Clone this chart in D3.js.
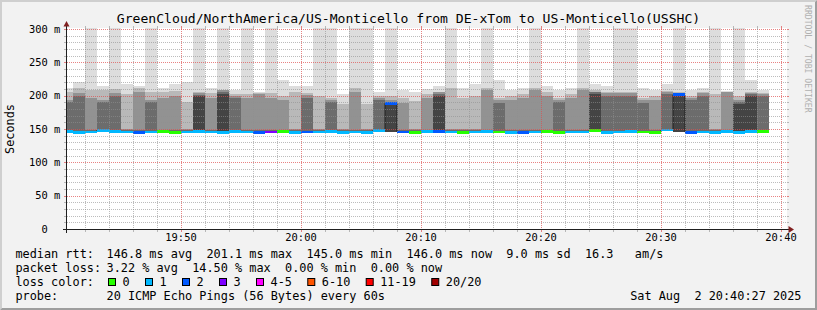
<!DOCTYPE html>
<html>
<head>
<meta charset="utf-8">
<script src="https://cdn.jsdelivr.net/npm/d3@7"></script>
<style>
  html, body { margin: 0; padding: 0; background: #f2f2f2; }
  svg { display: block; }
  text { font-family: "DejaVu Sans Mono", monospace; fill: #000; white-space: pre; }
</style>
</head>
<body>
<div id="chart"></div>
<script>
// Chart text
const title = "GreenCloud/NorthAmerica/US-Monticello from DE-xTom to US-Monticello(USSHC)";
const unitLabel = "Seconds";
const watermark = "RRDTOOL / TOBI OETIKER";

// Time range (one sample per minute, first sample ends 19:41, last 20:39)
const tStart = new Date(2025, 7, 2, 19, 40, 30);
const tEnd = new Date(2025, 7, 2, 20, 40, 30);
const firstStep = new Date(2025, 7, 2, 19, 41, 0);
const lastStep = new Date(2025, 7, 2, 20, 39, 0);

const yTicks = [0, 50, 100, 150, 200, 250, 300];

// median rtt per step (ms)
const medianRtt = [145.6, 145.4, 145.5, 148.4, 145.6, 145.5, 145.3, 145.5, 145.6, 145.4,
                   145.5, 145.7, 145.5, 145.4, 145.6, 145.5, 145.3, 145.5, 145.6, 145.4,
                   145.5, 145.5, 145.6, 145.4, 145.5, 145.3, 148.2, 188.6, 145.5, 145.4,
                   145.6, 146.9, 145.5, 145.4, 145.5, 145.6, 145.5, 145.4, 145.3, 145.5,
                   145.6, 145.4, 145.5, 145.5, 147.6, 145.4, 145.5, 145.6, 145.5, 145.4,
                   148.5, 201.1, 145.3, 145.5, 145.4, 145.6, 145.0, 146.6, 146.0];

// lost pings per step (of 20)
const lossCount = [1, 1, 1, 1, 1, 1, 2, 1, 0, 0,
                   1, 1, 1, 1, 1, 1, 2, 3, 0, 1,
                   2, 1, 1, 1, 1, 1, 1, 2, 2, 0,
                   1, 2, 1, 0, 1, 1, 0, 1, 2, 1,
                   0, 0, 1, 1, 0, 1, 1, 1, 0, 0,
                   1, 2, 2, 1, 1, 1, 1, 1, 0];

// bottom of the smoke (lowest ping, ms)
const rttLow = [145.6, 145.4, 145.5, 148.4, 145.6, 145.5, 145.3, 145.5, 145.6, 145.4,
                145.5, 145.7, 145.5, 145.4, 145.6, 145.5, 145.3, 145.5, 145.6, 145.4,
                145.5, 145.5, 145.6, 145.4, 145.5, 145.3, 148.2, 145.0, 145.5, 145.4,
                145.6, 146.9, 145.5, 145.4, 145.5, 145.6, 145.5, 145.4, 145.3, 145.5,
                145.6, 145.4, 145.5, 145.5, 147.6, 145.4, 145.5, 145.6, 145.5, 145.4,
                148.5, 145.0, 145.3, 145.5, 145.4, 145.6, 145.0, 146.6, 146.0];

// upper pings of each step, outer to inner (ms)
const rttP20 = [211, 221, 320, 215, 320, 218, 215, 320, 212, 218,
                220, 320, 212, 320, 209, 320, 206, 320, 223, 215,
                214, 320, 320, 203, 320, 320, 206, 320, 208, 205,
                210, 215, 320, 212, 218, 320, 224, 208, 211, 320,
                215, 208, 211, 320, 218, 215, 320, 320, 212, 208,
                218, 320, 209, 212, 320, 207, 320, 224, 208];
const rttP18 = [205, 211, 208, 208, 210, 203, 211, 205, 205, 207,
                190, 206, 204, 209, 203, 203, 204, 204, 200, 205,
                204, 200, 197, 187, 211, 187, 200, 200, 197, 192,
                203, 206, 211, 197, 200, 212, 197, 200, 202, 212,
                206, 197, 203, 212, 208, 206, 206, 206, 197, 200,
                207, 206, 199, 206, 203, 206, 200, 206, 204];
const rttP16 = [194, 204, 197, 194, 204, 150, 205, 194, 197, 200,
                150, 204, 197, 208, 200, 196, 202, 197, 193, 150,
                201, 150, 194, 150, 205, 150, 197, 194, 189, 150,
                197, 205, 150, 150, 150, 208, 193, 194, 196, 208,
                200, 194, 197, 208, 206, 204, 204, 204, 193, 194,
                205, 204, 196, 204, 150, 205, 193, 204, 202];
const rttP14 = [190, 200, 148.5, 190, 200, 148, 148.5, 190, 148.5, 148.5,
                148, 201, 148.5, 205, 196, 148.5, 148.5, 148.5, 148.5, 148,
                197, 148, 190, 148, 148.5, 148, 193, 191, 148.5, 148,
                148.5, 202, 148, 148, 148, 148.5, 189, 148.5, 148.5, 148.5,
                148.5, 190, 148.5, 148.5, 205, 200, 200, 200, 189, 148.5,
                202, 203, 193, 200, 148, 148.5, 190, 202, 200];
const rttP12 = [147.5, 147.5, 147, 147.5, 147.5, 147, 147, 147.5, 147, 147,
                147, 199, 147, 203, 147.5, 147, 147, 147, 147, 147,
                147.5, 147, 147.5, 147, 147, 147, 147.5, 189, 147, 147,
                147, 200, 147, 147, 147, 147, 147.5, 147, 147, 147,
                147, 147.5, 147, 147, 203, 147.5, 147.5, 147.5, 147.5, 147,
                147.5, 201, 147.5, 147.5, 147, 147, 187, 200, 147.5];

// loss colour legend
const lossLabels = ["0", "1", "2", "3", "4-5", "6-10", "11-19", "20/20"];
const lossColors = ["#26ff00", "#00b8ff", "#0059ff", "#7e00ff", "#ff00ff", "#ff5500", "#ff0000", "#a10000"];
const lossLimits = [1, 2, 3, 4, 6, 11, 20];

// legend lines
const legendRows = [
    ["median rtt:", "146.8 ms avg  201.1 ms max  145.0 ms min  146.0 ms now  9.0 ms sd  16.3   am/s"],
    ["packet loss:", "3.22 % avg  14.50 % max  0.00 % min  0.00 % now"],
    ["loss color:", ""],
    ["probe:", "20 ICMP Echo Pings (56 Bytes) every 60s"]
];
const stampText = "Sat Aug  2 20:40:27 2025";

// ---- Setup ----
const W = 817, H = 310;
const plotL = 67, plotR = 787, plotT = 29, plotB = 229;

const svg = d3.select("#chart").append("svg")
    .attr("width", W)
    .attr("height", H);

// background and 3d frame
svg.append("rect").attr("width", W).attr("height", H).attr("fill", "#f2f2f2");
svg.append("path")
    .attr("d", `M0,${H} L2,${H - 2} L2,2 L${W - 2},2 L${W},0 L0,0 Z`)
    .attr("fill", "#cfcfcf");
svg.append("path")
    .attr("d", `M2,${H - 2} L${W - 2},${H - 2} L${W - 2},2 L${W},0 L${W},${H} L0,${H} Z`)
    .attr("fill", "#9e9e9e");

const x = d3.scaleTime().domain([tStart, tEnd]).range([plotL, plotR]);
const y = d3.scaleLinear().domain([0, 300]).range([plotB, plotT]);
const lossColor = d3.scaleThreshold().domain(lossLimits).range(lossColors);

const steps = d3.timeMinute.range(firstStep, d3.timeMinute.offset(lastStep, 1));
const stepStart = d => d3.timeMinute.offset(d, -1);

// canvas
svg.append("rect")
    .attr("x", plotL).attr("y", plotT - 1)
    .attr("width", plotR - plotL).attr("height", plotB - plotT + 1)
    .attr("fill", "#ffffff");

svg.append("clipPath").attr("id", "plotClip")
    .append("rect")
    .attr("x", plotL).attr("y", plotT - 1)
    .attr("width", plotR - plotL).attr("height", plotB - plotT + 1);

const plot = svg.append("g").attr("clip-path", "url(#plotClip)");

// Smoke bands (outer light -> inner dark)
const bandSeries = [rttP20, rttP18, rttP16, rttP14, rttP12];
const shade = d3.scaleOrdinal().domain([0, 1, 2, 3, 4])
    .range(["#dddddd", "#b9b9b9", "#929292", "#6c6c6c", "#444444"]);

bandSeries.forEach((vals, b) => {
    plot.append("g").selectAll("rect")
        .data(steps)
        .join("rect")
        .attr("x", d => x(stepStart(d)))
        .attr("width", d => x(d) - x(stepStart(d)))
        .attr("y", (d, i) => y(vals[i]))
        .attr("height", (d, i) => Math.max(0, y(rttLow[i]) - y(vals[i])))
        .attr("fill", shade(b))
        .attr("shape-rendering", "crispEdges");
});

// Median step line
const medPts = steps.map((d, i) => ({ t: stepStart(d), v: medianRtt[i] }));
medPts.push({ t: steps[steps.length - 1], v: medianRtt[medianRtt.length - 1] });
const medLine = d3.line()
    .x(d => x(d.t))
    .y(d => y(d.v))
    .curve(d3.curveStepAfter);

plot.append("path")
    .datum(medPts)
    .attr("d", medLine)
    .attr("fill", "none")
    .attr("stroke", "#202020")
    .attr("stroke-width", 1);

// Median coloured by loss
const swidth = 2.2;
plot.append("g").selectAll("rect")
    .data(steps)
    .join("rect")
    .attr("x", d => x(stepStart(d)))
    .attr("width", d => x(d) - x(stepStart(d)))
    .attr("y", (d, i) => y(medianRtt[i] + swidth))
    .attr("height", (d, i) => y(medianRtt[i] - swidth) - y(medianRtt[i] + swidth))
    .attr("fill", (d, i) => lossColor(lossCount[i]))
    .attr("shape-rendering", "crispEdges");

// ---- Grid ----
const minorCol = "rgba(143,143,143,0.6)";
const majorCol = "rgba(222,79,79,0.7)";
const grid = svg.append("g").attr("shape-rendering", "crispEdges");

const hVals = d3.range(10, 301, 10);
hVals.forEach(v => {
    const col = v % 50 === 0 ? majorCol : minorCol;
    const yy = Math.round(y(v)) + 0.5;
    grid.append("line")
        .attr("x1", plotL).attr("x2", plotR)
        .attr("y1", yy).attr("y2", yy)
        .attr("stroke", col)
        .attr("stroke-dasharray", "1,1");
    grid.append("line").attr("x1", plotL - 3).attr("x2", plotL).attr("y1", yy).attr("y2", yy).attr("stroke", col);
    grid.append("line").attr("x1", plotR).attr("x2", plotR + 2).attr("y1", yy).attr("y2", yy).attr("stroke", col);
});

const vTimes = d3.timeMinute.every(2).range(tStart, tEnd);
vTimes.forEach(t => {
    const col = t.getMinutes() % 10 === 0 ? majorCol : minorCol;
    const xx = Math.round(x(t)) + 0.5;
    grid.append("line")
        .attr("x1", xx).attr("x2", xx)
        .attr("y1", plotT).attr("y2", plotB)
        .attr("stroke", col)
        .attr("stroke-dasharray", "1,1");
    grid.append("line").attr("x1", xx).attr("x2", xx).attr("y1", plotB).attr("y2", plotB + 3).attr("stroke", col);
    grid.append("line").attr("x1", xx).attr("x2", xx).attr("y1", plotT - 3).attr("y2", plotT).attr("stroke", col);
});

// ---- Axes ----
svg.append("line")
    .attr("x1", plotL - 4).attr("x2", plotR + 3)
    .attr("y1", plotB + 0.5).attr("y2", plotB + 0.5)
    .attr("stroke", "#1f1f1f");
svg.append("path")
    .attr("d", `M${plotR + 7},${plotB + 0.5} L${plotR + 1.5},${plotB - 3} L${plotR + 1.5},${plotB + 4} Z`)
    .attr("fill", "#801f1f");

svg.append("line")
    .attr("x1", plotL - 0.5).attr("x2", plotL - 0.5)
    .attr("y1", plotB + 4).attr("y2", plotT - 4)
    .attr("stroke", "#1f1f1f");
svg.append("path")
    .attr("d", `M${plotL - 0.5},${plotT - 8} L${plotL - 3.5},${plotT - 2.5} L${plotL + 2.5},${plotT - 2.5} Z`)
    .attr("fill", "#801f1f");

// Y tick labels
svg.append("g").selectAll("text")
    .data(yTicks)
    .join("text")
    .attr("x", 60.3)
    .attr("y", d => y(d) + 3.7)
    .attr("text-anchor", "end")
    .style("font-size", "10.4px")
    .text(d => d === 0 ? "0  " : `${d} m`);

// X tick labels
const xLabels = x.ticks(d3.timeMinute.every(10));
svg.append("g").selectAll("text")
    .data(xLabels)
    .join("text")
    .attr("x", d => x(d))
    .attr("y", 241)
    .attr("text-anchor", "middle")
    .style("font-size", "10.4px")
    .text(d3.timeFormat("%H:%M"));

// Unit label
svg.append("text")
    .attr("transform", `translate(14,${(plotT + plotB) / 2}) rotate(-90)`)
    .attr("text-anchor", "middle")
    .style("font-size", "11.86px")
    .text(unitLabel);

// Title
svg.append("text")
    .attr("x", W / 2)
    .attr("y", 23.3)
    .attr("text-anchor", "middle")
    .style("font-size", "13.1px")
    .text(title);

// Watermark
svg.append("text")
    .attr("transform", "translate(805,5) rotate(90)")
    .style("font-size", "8.15px")
    .style("fill", "#b0b0b0")
    .text(watermark);

// ---- Legend ----
const rowBase = [258.3, 272.2, 286.1, 300];
const legend = svg.append("g").style("font-size", "11.86px");
legendRows.forEach((r, i) => {
    legend.append("text").attr("x", 15.4).attr("y", rowBase[i]).text(r[0]);
    if (r[1]) legend.append("text").attr("x", 106.5).attr("y", rowBase[i]).text(r[1]);
});
legend.append("text")
    .attr("x", 801.5).attr("y", rowBase[3])
    .attr("text-anchor", "end")
    .text(stampText);

const charW = 7.14;
let bx = 108.5;
lossLabels.forEach((lab, i) => {
    legend.append("rect")
        .attr("x", bx).attr("y", 278.5)
        .attr("width", 7).attr("height", 7)
        .attr("fill", lossColors[i])
        .attr("stroke", "#000")
        .attr("stroke-width", 1);
    legend.append("text").attr("x", bx + 14).attr("y", rowBase[2]).text(lab);
    bx += 29.86 + charW * lab.length;
});
</script>
</body>
</html>
